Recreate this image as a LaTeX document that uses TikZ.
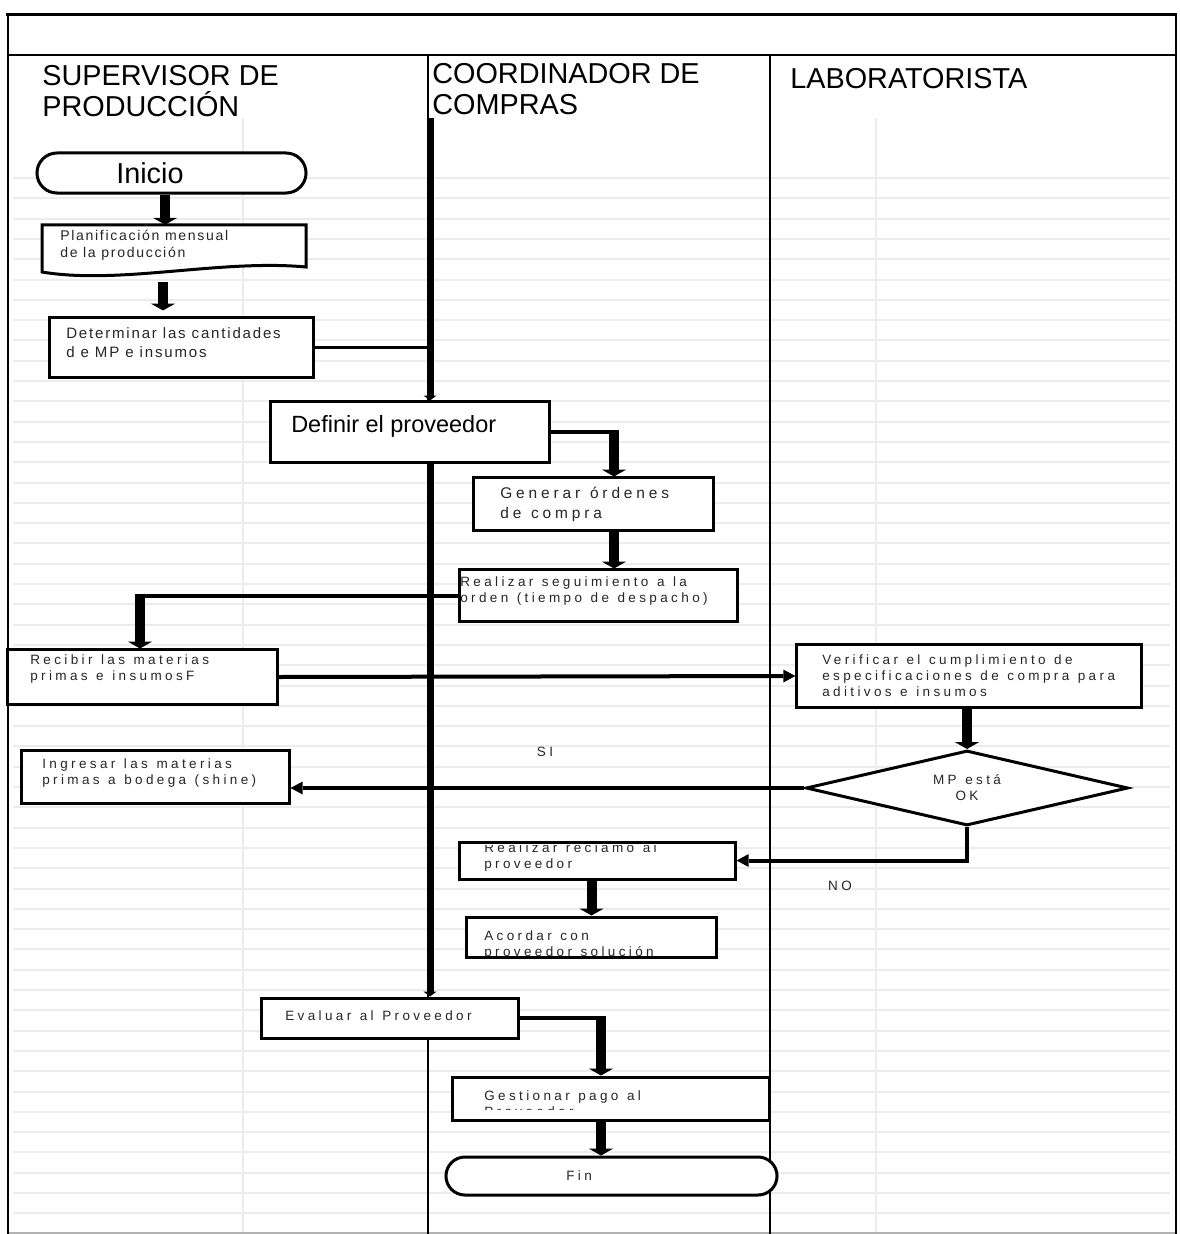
\documentclass[tikz,border=0pt]{standalone}
\usepackage{fontspec}
\setmainfont{Liberation Sans}
\newfontfamily\espaciada[LetterSpace=25, WordSpace=1.2]{Liberation Sans}
\newfontfamily\medioespaciada[LetterSpace=12]{Liberation Sans}
\usetikzlibrary{arrows.meta, positioning, shapes.geometric}

\begin{document}
\begin{tikzpicture}[x=0.025cm, y=-0.025cm,
    rejilla/.style={gray!15, line width=0.05cm},
    marco/.style={line width=0.05cm},
    titulo/.style={font=\fontsize{20.5}{22}\selectfont, align=left, inner sep=0pt, anchor=north west},
    caja/.style={draw, line width=0.075cm, fill=white, inner sep=0pt},
    terminal/.style={caja, rounded corners=0.5cm},
    rombo/.style={diamond, aspect=4.3, draw, line width=0.075cm, fill=white, inner sep=0pt, align=center, text=black!85},
    texto/.style={inner sep=0pt, align=left, anchor=west, text=black!85},
    espaciado/.style={font=\espaciada\fontsize{9.6}{11.4}\selectfont},
    bloque/.style={line width=0.25cm, -{Triangle[width=0.6cm,length=0.17cm,line width=0pt]}},
    eje/.style={line width=0.175cm, -{Triangle[width=0.32cm,length=0.12cm,line width=0pt]}},
    linea/.style={line width=0.1cm},
    punta/.style={-{Triangle[width=0.32cm,length=0.3cm,line width=0pt]}}]

  \useasboundingbox (0,0) rectangle (1179,1234);

  \foreach \i in {0,...,51}
    \draw[rejilla] (13,178+20.3*\i) -- (1170,178+20.3*\i);
  \draw[rejilla] (243,118) -- (243,1234);
  \draw[rejilla] (876,118) -- (876,1234);

  \draw[gray!60, line width=0.03cm] (8,1233) -- (1176,1233);
  \draw[line width=0.075cm] (6,15) -- (1177,15);
  \draw[marco] (8,15) -- (8,1234) (1176,15) -- (1176,1234) (8,55) -- (1176,55)
    (428,55) -- (428,1234) (770,55) -- (770,1234);

  \node[titulo] (supervisor) at (42,65) {SUPERVISOR DE\\PRODUCCIÓN};
  \node[titulo] (coordinador) at (432,63) {COORDINADOR DE\\COMPRAS};
  \node[titulo] (laboratorista) at (790,68) {LABORATORISTA};

  \node[terminal, minimum width=6.725cm, minimum height=1cm] (inicio) at (171.5,173) {};
  \node[texto, text=black, font=\fontsize{20.5}{22}\selectfont] (inicioTxt) at (116,173) {Inicio};

  \draw[line width=0.075cm, fill=white] (42,225) -- (306,225) -- (306,267)
    .. controls (220,259) and (120,285) .. (42,272) -- cycle;
  \node[inner sep=0pt, minimum width=6.6cm, minimum height=1.125cm] (plan) at (174,247.5) {};
  \node[texto, font=\medioespaciada\fontsize{10}{11.9}\selectfont] (planTxt) at (60,245.5)
    {Planificación mensual\\de la producción};

  \node[caja, minimum width=6.575cm, minimum height=1.475cm] (determinar) at (181.5,347.5) {};
  \node[texto, font=\medioespaciada\fontsize{10.7}{13}\selectfont] (determinarTxt) at (66,342.5)
    {Determinar las cantidades\\d e MP e insumos};

  \node[caja, minimum width=6.95cm, minimum height=1.5cm] (definir) at (410,432) {};
  \node[texto, text=black, font=\fontsize{16.7}{19}\selectfont] (definirTxt) at (291,426)
    {Definir el proveedor};

  \node[caja, minimum width=5.975cm, minimum height=1.3cm] (generar) at (593.5,504) {};
  \node[texto, font=\espaciada\fontsize{11}{14.2}\selectfont] (generarTxt) at (500,504)
    {Generar órdenes\\de compra};

  \node[caja, minimum width=6.925cm, minimum height=1.275cm] (seguim) at (598.5,595.5) {};
  \node[texto, espaciado] (seguimTxt) at (460,591)
    {Realizar seguimiento a la\\orden (tiempo de despacho)};

  \node[caja, minimum width=6.725cm, minimum height=1.35cm] (recibir) at (142.5,677) {};
  \node[texto, espaciado] (recibirTxt) at (30,669) {Recibir las materias\\primas e insumosF};

  \node[caja, minimum width=8.6cm, minimum height=1.55cm] (verificar) at (969,676) {};
  \node[texto, espaciado] (verificarTxt) at (822,676)
    {Verificar el cumplimiento de\\especificaciones de compra para\\aditivos e insumos};

  \node[rombo, espaciado, minimum width=8.05cm, minimum height=1.875cm] (mpok)
    at (967,788) {MP está\\OK};

  \node[caja, minimum width=6.675cm, minimum height=1.325cm] (ingresar) at (155.5,776.5) {};
  \node[texto, espaciado] (ingresarTxt) at (42,773)
    {Ingresar las materias\\primas a bodega (shine)};

  \node[caja, minimum width=6.875cm, minimum height=0.925cm] (reclamo) at (597.5,860.5) {};
  \begin{scope}
    \clip (460,845) rectangle (735,879);
    \node[texto, espaciado] (reclamoTxt) at (484,857) {Realizar reclamo al\\proveedor};
  \end{scope}

  \node[caja, minimum width=6.225cm, minimum height=1cm] (acordar) at (591.5,937) {};
  \begin{scope}
    \clip (467,917) rectangle (716,955);
    \node[texto, espaciado] (acordarTxt) at (484,945) {Acordar con\\proveedor solución};
  \end{scope}

  \node[caja, minimum width=6.4cm, minimum height=1cm] (evaluar) at (390,1018) {};
  \node[texto, espaciado] (evaluarTxt) at (285,1016) {Evaluar al Proveedor};

  \node[caja, minimum width=7.9cm, minimum height=1.075cm] (gestionar) at (611,1098.5) {};
  \begin{scope}
    \clip (453,1079) rectangle (769,1109);
    \node[texto, espaciado] (gestionarTxt) at (484,1104) {Gestionar pago al\\Proveedor};
  \end{scope}

  \node[terminal, rounded corners=0.475cm, minimum width=8.275cm,
    minimum height=0.95cm] (fin) at (611.5,1176) {};
  \node[texto, espaciado] (finTxt) at (566,1176) {Fin};

  \node[texto, espaciado, anchor=center] (si) at (545,752) {SI};
  \node[texto, espaciado, anchor=center] (no) at (840,886) {NO};

  \coordinate (eje) at (430,118);
  \coordinate (codo1) at (614,432);
  \coordinate (codo3) at (140,595.5);
  \coordinate (codo2) at (601,1018);

  \draw[bloque] ([xshift=-0.16cm]inicio.south) -- ([xshift=-0.16cm]inicio.south |- plan.north);
  \draw[bloque, shorten <=0.3cm, shorten >=0.15cm] ([xshift=-0.275cm]plan.south)
    -- ([xshift=-0.275cm]plan.south |- determinar.north);
  \draw[line width=0.075cm] (determinar.east) -- (determinar.east -| eje);
  \draw[eje] (eje) -- (eje |- definir.north);
  \draw[eje] (eje |- definir.south) -- (eje |- evaluar.north);

  \draw[linea] (definir.east) -- (codo1);
  \draw[bloque] ([yshift=0.05cm]codo1) -- (codo1 |- generar.north);
  \draw[bloque] (codo1 |- generar.south) -- (codo1 |- seguim.north);

  \draw[linea] (seguim.west) -- (codo3);
  \draw[bloque] ([yshift=0.05cm]codo3) -- (codo3 |- recibir.north);

  \draw[linea, punta] (recibir.east) -- (verificar.west);
  \draw[bloque] (verificar.south -| mpok.north) -- (mpok.north);
  \draw[linea, punta] (mpok.west) -- (mpok.west -| ingresar.east);
  \draw[linea, punta] (mpok.south) |- (reclamo.east);
  \draw[bloque] (acordar.north |- reclamo.south) -- (acordar.north);

  \draw[linea] (evaluar.east) -- (codo2);
  \draw[bloque] ([yshift=0.05cm]codo2) -- (codo2 |- gestionar.north);
  \draw[bloque] (codo2 |- gestionar.south) -- (codo2 |- fin.north);
\end{tikzpicture}
\end{document}
